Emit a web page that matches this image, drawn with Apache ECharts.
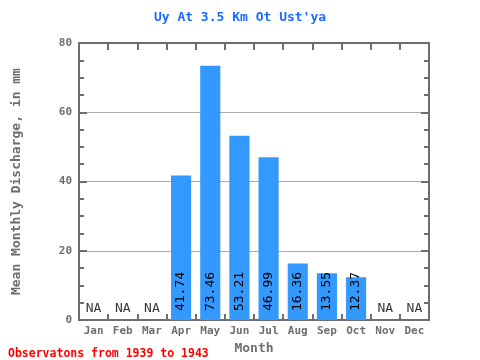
<!DOCTYPE html>
<html>
<head>
<meta charset="utf-8">
<script src="https://cdn.jsdelivr.net/npm/echarts@6/dist/echarts.min.js"></script>
<style>html,body{margin:0;padding:0;background:#fff}#c{width:480px;height:360px}</style>
</head>
<body>
<div id="c"></div>
<script>
const months = ['Jan','Feb','Mar','Apr','May','Jun','Jul','Aug','Sep','Oct','Nov','Dec'];
const discharge = [null,null,null,41.74,73.46,53.21,46.99,16.36,13.55,12.37,null,null];
const yTicks = [0,20,40,60,80];
const titleText = "Uy At 3.5 Km Ot Ust'ya";
const footText = 'Observatons from 1939 to 1943';

const FONT = 'DejaVu Sans Mono';
const AX = '#6e6e6e';
const chart = echarts.init(document.getElementById('c'));
const naData = [];
discharge.forEach((v,i)=>{ if (v === null) naData.push([months[i], 0]); });

chart.setOption({
  animation:false,
  title:[
    {text:titleText, left:'center', top:6, textStyle:{fontFamily:FONT, fontSize:13, fontWeight:'bold', color:'#1a6cff'}},
    {text:footText, left:3, top:343, textStyle:{fontFamily:FONT, fontSize:11.5, fontWeight:'bold', color:'#ff0000'}}
  ],
  grid:{left:79, right:51, top:43, bottom:39},
  xAxis:[
    {type:'category', data:months, position:'bottom',
     name:'Month', nameLocation:'middle', nameGap:20,
     nameTextStyle:{fontFamily:FONT, fontSize:13, fontWeight:'bold', color:AX},
     axisLine:{onZero:false, lineStyle:{color:AX, width:2}},
     axisTick:{show:true, inside:true, interval:0, length:6, lineStyle:{color:AX, width:2}},
     axisLabel:{fontFamily:FONT, fontSize:11, fontWeight:'bold', color:AX, margin:6, interval:0},
     splitLine:{show:false}},
    {type:'category', data:months, position:'top',
     axisLine:{show:true, onZero:false, lineStyle:{color:AX, width:2}},
     axisTick:{show:true, inside:true, interval:0, length:7, lineStyle:{color:AX, width:2}},
     axisLabel:{show:false}, splitLine:{show:false}}
  ],
  yAxis:[
    {type:'value', min:0, max:80, interval:20, position:'left',
     name:'Mean Monthly Discharge, in mm', nameLocation:'middle', nameGap:56,
     nameTextStyle:{fontFamily:FONT, fontSize:13, fontWeight:'bold', color:AX},
     axisLine:{show:true, onZero:false, lineStyle:{color:AX, width:2}},
     axisTick:{show:true, inside:true, length:8, lineStyle:{color:AX, width:2}},
     minorTick:{show:true, splitNumber:4, length:5, lineStyle:{color:AX, width:2}},
     axisLabel:{fontFamily:FONT, fontSize:11, fontWeight:'bold', color:AX, margin:7,
       formatter:v=>yTicks.includes(v)?String(v):''},
     splitLine:{show:true, lineStyle:{color:'#aaaaaa', width:1}}},
    {type:'value', min:0, max:80, interval:20, position:'right',
     axisLine:{show:true, onZero:false, lineStyle:{color:AX, width:2}},
     axisTick:{show:true, inside:true, length:8, lineStyle:{color:AX, width:2}},
     minorTick:{show:true, splitNumber:4, length:5, lineStyle:{color:AX, width:2}},
     axisLabel:{show:false}, splitLine:{show:false}}
  ],
  series:[
    {type:'bar', data:discharge, barWidth:'69%', itemStyle:{color:'#3399ff'},
     label:{show:true, position:'insideBottom', rotate:90, align:'left', verticalAlign:'middle',
       distance:9, fontFamily:FONT, fontSize:13, color:'#000',
       formatter:p=>p.value.toFixed(2)}},
    {type:'scatter', data:naData, symbolSize:0,
     label:{show:true, position:'top', distance:5, formatter:'NA', fontFamily:FONT, fontSize:13, color:'#000'}}
  ]
});
</script>
</body>
</html>
